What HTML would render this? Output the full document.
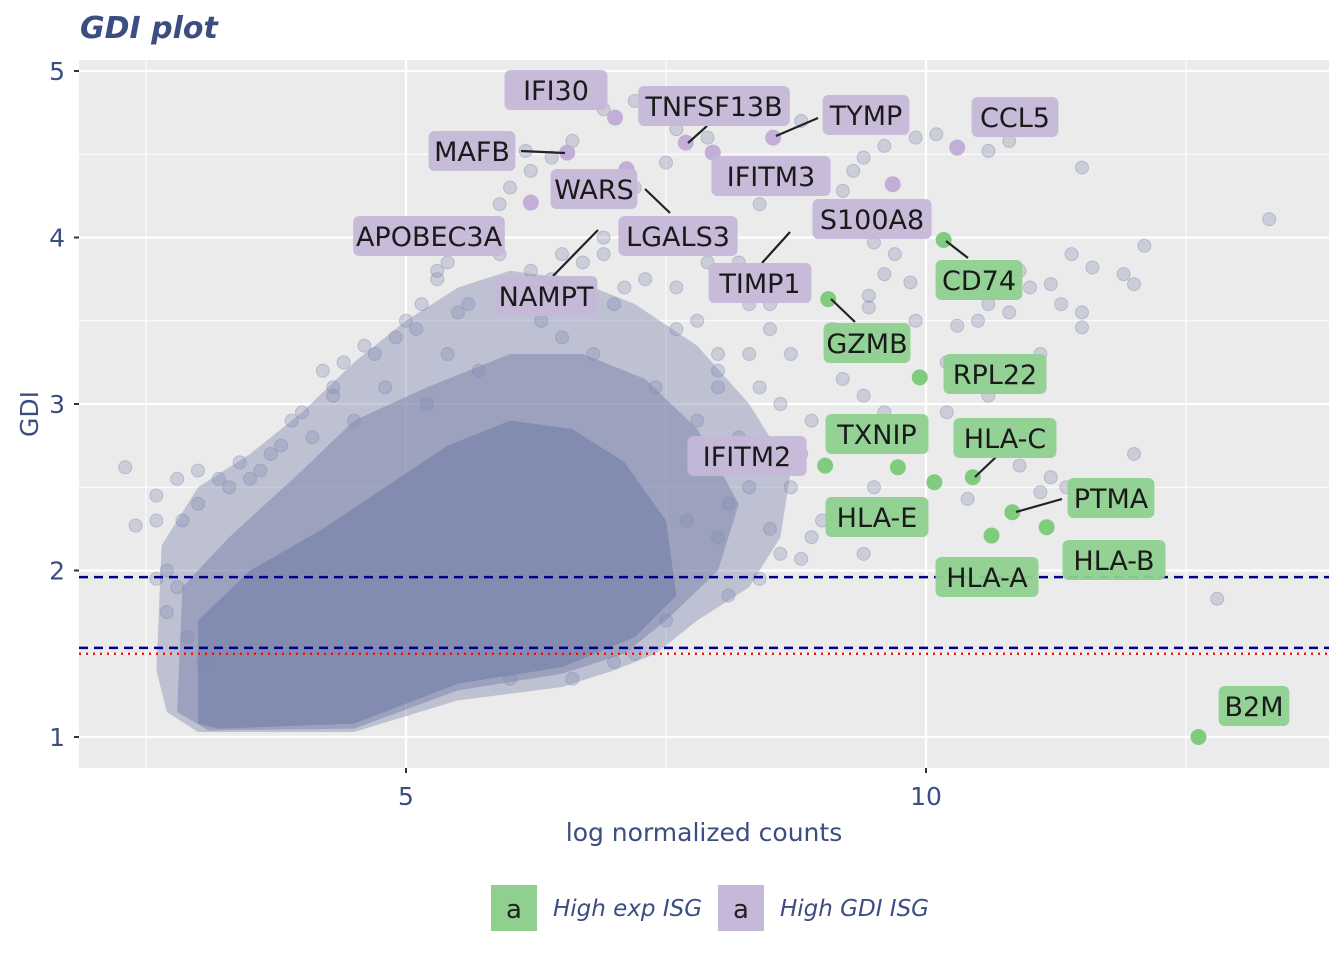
<!DOCTYPE html>
<html><head><meta charset="utf-8"><style>
body{margin:0;background:#fff;font-family:"Liberation Sans","DejaVu Sans",sans-serif;}
svg text{font-family:"DejaVu Sans","Liberation Sans",sans-serif;}
</style></head><body>
<svg id="chart" width="1344" height="960" xmlns="http://www.w3.org/2000/svg">
<text x="80" y="38" font-size="30" font-weight="bold" font-style="italic" fill="#3c4d82">GDI plot</text>
<rect x="79" y="60" width="1250" height="708" fill="#ebebeb"/>
<g id="grid"></g><g id="cloud"></g><g id="pts"></g><g id="refs"></g><g id="hl"></g><g id="labels"></g><g id="axes"></g>
<g>
<rect x="491" y="885" width="46" height="46" fill="#8fd08f"/>
<text x="514" y="918" font-size="26" text-anchor="middle" fill="#222">a</text>
<text x="553" y="916" font-size="23" font-style="italic" fill="#3c4d82">High exp ISG</text>
<rect x="718" y="885" width="46" height="46" fill="#c5b8d8"/>
<text x="741" y="918" font-size="26" text-anchor="middle" fill="#222">a</text>
<text x="780" y="916" font-size="23" font-style="italic" fill="#3c4d82">High GDI ISG</text>
</g>
</svg>
<script>
const xTicks=[5,10];
const yTicks=[1,2,3,4,5];
const refLines=[1.96,1.535];
const redLine=[1.5];
const scatterX=[10.6,10.8,11.5,12.1,13.3,11.9,12.0,11.6,11.4,11.0,10.8,10.5,10.3,11.3,11.5,11.5,11.2,10.6,10.9,10.2,10.3,10.6,10.9,11.1,10.9,11.1,11.2,11.35,11.5,12.0,12.8,10.4,10.2,9.9,9.85,9.7,9.6,9.5,9.9,10.1,9.4,9.3,9.2,9.6,9.7,9.45,9.45,9.1,9.3,9.5,9.2,9.4,9.6,9.75,9.35,9.5,9.2,9.0,8.9,9.4,8.8,8.6,8.5,8.7,8.8,8.9,8.6,8.4,8.7,8.5,8.3,8.6,8.2,8.0,8.4,8.7,8.8,8.5,7.9,7.6,7.4,7.2,6.9,7.5,7.2,6.8,6.6,6.4,6.2,6.0,5.9,5.8,5.6,5.4,5.3,5.15,5.0,4.9,4.6,4.4,4.2,4.3,4.1,3.9,3.8,3.6,3.4,3.2,3.0,2.8,2.6,2.6,2.4,2.3,2.85,3.0,2.7,2.8,2.6,2.7,2.9,3.05,5.5,6.1,6.3,6.5,7.0,7.3,7.6,7.8,8.0,8.0,8.2,7.8,8.3,8.1,8.0,7.7,5.4,5.7,6.8,7.4,4.8,5.2,4.5,7.0,7.2,7.5,8.1,8.4,6.6,6.0,6.5,6.9,7.3,5.75,6.15,6.5,7.7,7.9,4.0,4.3,4.7,5.1,5.6,6.2,6.7,7.1,7.6,8.0,3.7,3.5,3.3,6.4,6.9,7.8,8.3,8.5,5.9,5.3];
const scatterY=[4.52,4.58,4.42,3.95,4.11,3.78,3.72,3.82,3.9,3.7,3.55,3.5,3.47,3.6,3.55,3.46,3.72,3.6,3.8,3.25,3.1,3.05,3.2,3.3,2.63,2.47,2.56,2.5,2.4,2.7,1.83,2.43,2.95,3.5,3.73,3.9,3.78,3.97,4.6,4.62,4.48,4.4,4.28,4.55,4.1,3.65,3.58,3.45,3.35,3.3,3.15,3.05,2.95,2.85,2.8,2.5,2.4,2.3,2.2,2.1,2.07,2.1,2.25,2.5,2.7,2.9,3.0,3.1,3.3,3.45,3.6,3.75,3.85,3.95,4.2,4.4,4.7,4.85,4.6,4.65,4.75,4.82,4.77,4.45,4.3,4.3,4.58,4.48,4.4,4.3,4.2,4.05,3.95,3.85,3.75,3.6,3.5,3.4,3.35,3.25,3.2,3.05,2.8,2.9,2.75,2.6,2.65,2.55,2.6,2.55,2.45,2.3,2.27,2.62,2.3,2.4,2.0,1.9,1.95,1.75,1.6,1.45,3.55,3.65,3.5,3.4,3.6,3.75,3.7,3.5,3.3,3.1,2.8,2.9,2.5,2.4,2.2,2.3,3.3,3.2,3.3,3.1,3.1,3.0,2.9,1.45,1.5,1.7,1.85,1.95,1.35,1.35,3.9,4.0,3.95,4.5,4.52,3.7,4.05,3.85,2.95,3.1,3.3,3.45,3.6,3.8,3.85,3.7,3.45,3.2,2.7,2.55,2.5,3.75,3.9,3.95,3.3,3.6,3.9,3.8];
const haloX=[2.6,2.65,3.0,3.5,4.0,4.5,5.0,5.5,6.0,6.6,7.2,7.8,8.3,8.7,8.6,8.3,7.8,7.4,7.0,6.5,5.5,4.5,3.0,2.7];
const haloY=[1.4,2.15,2.5,2.7,2.95,3.25,3.5,3.7,3.8,3.75,3.6,3.35,3.0,2.6,2.2,1.9,1.7,1.5,1.4,1.3,1.22,1.03,1.03,1.15];
const midX=[2.8,2.85,3.3,4.0,4.5,5.2,6.0,6.7,7.3,7.8,8.2,8.0,7.5,7.1,6.5,5.5,4.5,3.1];
const midY=[1.15,1.9,2.2,2.6,2.9,3.1,3.3,3.3,3.15,2.85,2.4,2.0,1.7,1.5,1.38,1.28,1.05,1.04];
const coreX=[3.0,3.0,3.5,4.2,4.8,5.4,6.0,6.6,7.1,7.5,7.6,7.2,6.5,5.5,4.5,3.2];
const coreY=[1.08,1.7,2.0,2.25,2.5,2.75,2.9,2.85,2.65,2.3,1.85,1.6,1.42,1.32,1.08,1.05];
const greenX=[10.17,9.06,9.94,9.03,9.73,10.08,10.45,10.83,11.16,10.63,12.62];
const greenY=[3.985,3.63,3.16,2.63,2.62,2.53,2.56,2.35,2.26,2.21,1.0];
const purpleX=[7.01,7.69,7.95,8.53,10.3,6.55,9.68,7.12,6.2];
const purpleY=[4.72,4.57,4.51,4.60,4.54,4.51,4.32,4.41,4.21];
const labelText=["IFI30","TNFSF13B","TYMP","CCL5","MAFB","IFITM3","WARS","S100A8","APOBEC3A","LGALS3","NAMPT","TIMP1","CD74","GZMB","RPL22","TXNIP","IFITM2","HLA-C","PTMA","HLA-E","HLA-B","HLA-A","B2M"];
const labelGroup=["p","p","p","p","p","p","p","p","p","p","p","p","g","g","g","g","p","g","g","g","g","g","g"];
const labelCx=[556,714,866,1015,472,771,594,872,429,678,546,760,979,867,995,877,747,1005,1111,877,1114,987,1254];
const labelCy=[90,106,115,117,151,176,189,219,236,236,296,283,280,343,374,434,456,438,498,517,560,577,706];
const segs=[[521,151,565,153],[707,126,688,143],[818,118,776,136],[645,189,670,213],[553,276,598,230],[762,263,790,232],[946,241,968,258],[831,299,855,322],[975,477,996,457],[1016,512,1062,499]];

const X0=79,X1=1329,Y0=60,Y1=768;
const sx=v=>406+(v-5)*104;
const sy=v=>737-(v-1)*166.5;
const NS="http://www.w3.org/2000/svg";
function mk(tag,parent,attrs){const e=document.createElementNS(NS,tag);for(const k in attrs)e.setAttribute(k,attrs[k]);document.getElementById(parent).appendChild(e);return e;}
[2.5,7.5,12.5].forEach(v=>{const e=mk('line','grid',{x1:sx(v),x2:sx(v),y1:Y0,y2:Y1,stroke:'#fff','stroke-width':1});

});
[1.5,2.5,3.5,4.5].forEach(v=>{const e=mk('line','grid',{x1:X0,x2:X1,y1:sy(v),y2:sy(v),stroke:'#fff','stroke-width':1});

});
xTicks.forEach(v=>{const e=mk('line','grid',{x1:sx(v),x2:sx(v),y1:Y0,y2:Y1,stroke:'#fff','stroke-width':2.2});


const t=mk('text','axes',{x:sx(v),y:805,'font-size':25,'text-anchor':'middle',fill:'#3c4d82'});t.textContent=v;


mk('line','axes',{x1:sx(v),x2:sx(v),y1:Y1,y2:Y1+5,stroke:'#333','stroke-width':2});});
yTicks.forEach(v=>{const e=mk('line','grid',{x1:X0,x2:X1,y1:sy(v),y2:sy(v),stroke:'#fff','stroke-width':2.2});


const t=mk('text','axes',{x:65,y:sy(v)+9,'font-size':25,'text-anchor':'end',fill:'#3c4d82'});t.textContent=v;


mk('line','axes',{x1:X0-5,x2:X0,y1:sy(v),y2:sy(v),stroke:'#333','stroke-width':2});});
let t=mk('text','axes',{x:704,y:841,'font-size':25,'text-anchor':'middle',fill:'#3c4d82'});t.textContent='log normalized counts';


t=mk('text','axes',{x:38,y:414,'font-size':25,'text-anchor':'middle',fill:'#3c4d82',transform:'rotate(-90 38 414)'});t.textContent='GDI';


function poly(xs,ys,op,name){const p=xs.map((x,i)=>sx(x)+','+sy(ys[i])).join(' ');
const e=mk('polygon','cloud',{points:p,fill:'#8089ae','fill-opacity':op,stroke:'none'});

}
poly(haloX,haloY,0.42,'density-halo');poly(midX,midY,0.55,'density-mid');poly(coreX,coreY,0.9,'density-core');
scatterX.forEach((x,i)=>{const e=mk('circle','pts',{cx:sx(x),cy:sy(scatterY[i]),r:6.5,fill:'#8089ae','fill-opacity':0.3,stroke:'#8089ae','stroke-opacity':0.4});

});
refLines.forEach(v=>{const e=mk('line','refs',{x1:X0,x2:X1,y1:sy(v),y2:sy(v),stroke:'#00008b','stroke-width':2.5,'stroke-dasharray':'9,6'});

});
redLine.forEach(v=>{const e=mk('line','refs',{x1:X0,x2:X1,y1:sy(v),y2:sy(v),stroke:'#ff0000','stroke-width':2.2,'stroke-dasharray':'2,5'});

});
greenX.forEach((x,i)=>{const e=mk('circle','hl',{cx:sx(x),cy:sy(greenY[i]),r:8,fill:'#7fcc7f'});

});
purpleX.forEach((x,i)=>{const e=mk('circle','hl',{cx:sx(x),cy:sy(purpleY[i]),r:8,fill:'#c2aed6'});

});
segs.forEach(s=>{const e=mk('line','labels',{x1:s[0],y1:s[1],x2:s[2],y2:s[3],stroke:'#222','stroke-width':2.2});

});
labelText.forEach((s,i)=>{const w=s.length*16.2+22;
const r=mk('rect','labels',{x:labelCx[i]-w/2,y:labelCy[i]-20,width:w,height:40,rx:6,fill:labelGroup[i]=='g'?'#8fd08f':'#c5b8d8','fill-opacity':0.95});


const tx=mk('text','labels',{x:labelCx[i],y:labelCy[i]+10,'font-size':27,'text-anchor':'middle',fill:'#1a1a1a'});tx.textContent=s;

});
</script>
</body></html>
